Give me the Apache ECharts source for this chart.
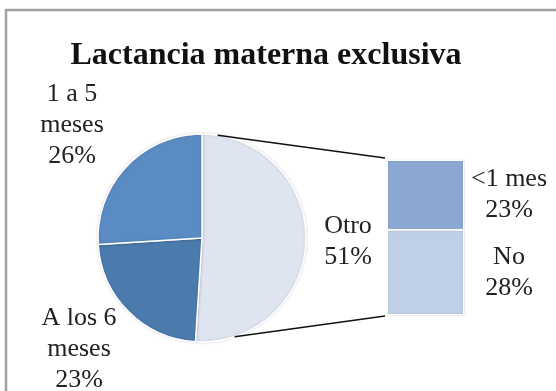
<!DOCTYPE html>
<html>
<head>
<meta charset="utf-8">
<script src="https://cdn.jsdelivr.net/npm/echarts@6/dist/echarts.min.js"></script>
<style>html,body{margin:0;padding:0;background:#fff}#c{width:556px;height:391px}</style>
</head>
<body>
<div id="c"></div>
<script>
const title = 'Lactancia materna exclusiva';
const pieNames = ['Otro', 'A los 6\nmeses', '1 a 5\nmeses'];
const pieValues = [51, 23, 26];
const barNames = ['No', '<1 mes'];
const barValues = [28, 23];

const FONT = '"Liberation Serif", "DejaVu Serif", serif';
const pieColors = ['#dfe5f0', '#4b7aad', '#5a8bc2'];
const barColors = ['#bfcfe6', '#8aa8d2'];
const pieCenter = [202, 238];
const pieR = 104;
const labelPos = [[348, 242], [79, 349], [72, 125]];

const chart = echarts.init(document.getElementById('c'), null, {renderer: 'canvas'});

const option = {
  animation: false,
  title: {
    text: title, left: 261, top: 35, textAlign: 'center',
    textStyle: {fontFamily: FONT, fontWeight: 'bold', fontSize: 32, color: '#111'}
  },
  grid: {left: 387, top: 160, width: 77, height: 155},
  xAxis: {type: 'category', data: ['Otro'], show: false},
  yAxis: {type: 'value', min: 0, max: 51, show: false},
  series: [
    {
      type: 'pie', center: pieCenter, radius: pieR, startAngle: 90, clockwise: true,
      data: pieNames.map((n, i) => ({name: n, value: pieValues[i], itemStyle: {color: pieColors[i]}})),
      itemStyle: {borderColor: '#fff', borderWidth: 1.5, shadowColor: 'rgba(0,0,0,0.15)', shadowBlur: 3},
      label: {
        show: true, position: 'outside', fontFamily: FONT, fontSize: 26, color: '#222', lineHeight: 31, align: 'center',
        overflow: 'none', width: 200,
        formatter: p => p.name + '\n' + p.value + '%'
      },
      labelLine: {show: false},
      labelLayout: p => ({x: labelPos[p.dataIndex][0], y: labelPos[p.dataIndex][1], align: 'center', verticalAlign: 'middle'})
    },
    ...barNames.map((n, i) => ({
      type: 'bar', name: n, stack: 'otro', barWidth: '100%',
      data: [barValues[i]],
      itemStyle: {color: barColors[i], borderColor: '#fff', borderWidth: 1, shadowColor: 'rgba(0,0,0,0.15)', shadowBlur: 2},
      label: {
        show: true, position: 'right', distance: 45, align: 'center',
        fontFamily: FONT, fontSize: 26, color: '#222', lineHeight: 31,
        formatter: () => n + '\n' + barValues[i] + '%'
      }
    }))
  ]
};
chart.setOption(option);

const total = barValues.reduce((a, b) => a + b, 0);
const barTop = chart.convertToPixel({gridIndex: 0}, ['Otro', total]);
const barBot = chart.convertToPixel({gridIndex: 0}, ['Otro', 0]);
const barLeft = 387;
const angTop = 8.7 * Math.PI / 180, angBot = 161.7 * Math.PI / 180;
const pt = a => [pieCenter[0] + pieR * Math.sin(a), pieCenter[1] - pieR * Math.cos(a)];
const pTop = pt(angTop), pBot = pt(angBot);

chart.setOption({
  graphic: [
    {type: 'rect', shape: {x: 6, y: 10, width: 700, height: 500}, style: {fill: 'none', stroke: '#a0a0a0', lineWidth: 2.5}, z: 100},
    {type: 'line', shape: {x1: pTop[0], y1: pTop[1], x2: barLeft - 2, y2: barTop[1] - 2}, style: {stroke: '#111', lineWidth: 1.5}, z: 100},
    {type: 'line', shape: {x1: pBot[0], y1: pBot[1], x2: barLeft - 2, y2: barBot[1] + 1}, style: {stroke: '#111', lineWidth: 1.5}, z: 100}
  ]
});
</script>
</body>
</html>
